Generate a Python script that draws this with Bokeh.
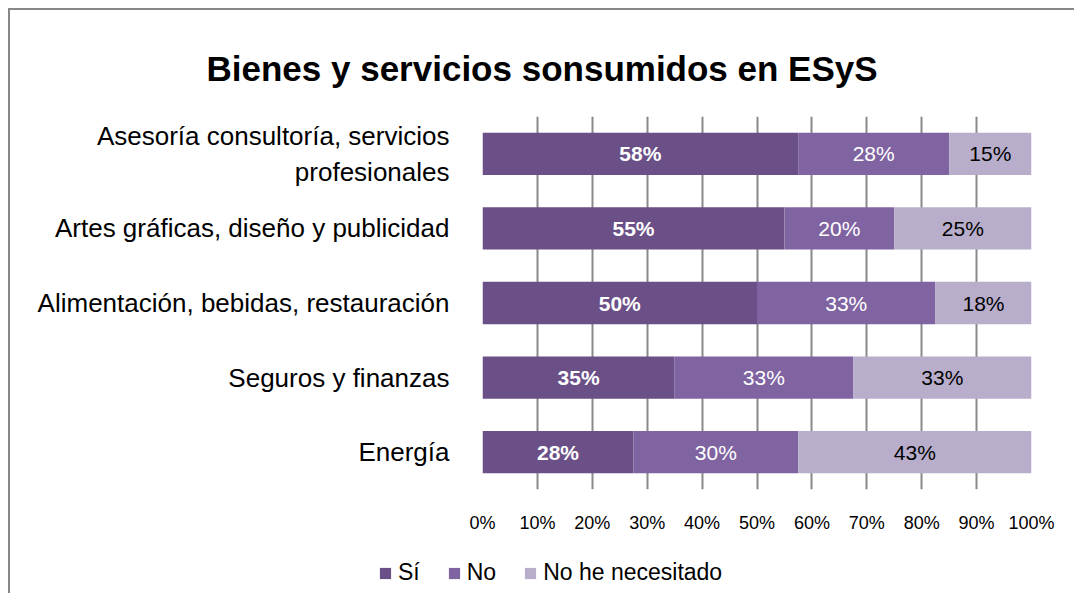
from bokeh.plotting import figure
from bokeh.layouts import column
from bokeh.models import (ColumnDataSource, FactorRange, FixedTicker, PrintfTickFormatter,
                          Legend, LegendItem, Range1d)
from bokeh.embed import file_html
from bokeh.resources import INLINE
from bokeh.core.properties import value

title_text = "Bienes y servicios sonsumidos en ESyS"
categories = [
    "Asesoría consultoría, servicios\nprofesionales",
    "Artes gráficas, diseño y publicidad",
    "Alimentación, bebidas, restauración",
    "Seguros y finanzas",
    "Energía",
]
series_names = ["Sí", "No", "No he necesitado"]
si = [57.5, 55, 50, 35, 27.5]
no = [27.5, 20, 32.5, 32.5, 30]
nhn = [15, 25, 17.5, 32.5, 42.5]
x_ticks = [0, 10, 20, 30, 40, 50, 60, 70, 80, 90, 100]

colors = ["#6A5087", "#8064A2", "#B8AECB"]
label_colors = ["white", "white", "black"]
label_styles = ["bold", "normal", "normal"]
FONT = "Liberation Sans"

p = figure(width=1066, height=545, title=title_text,
           y_range=FactorRange(factors=categories[::-1]),
           x_range=Range1d(0, 100),
           output_backend="svg", toolbar_location=None,
           min_border_left=472, min_border_right=45,
           min_border_top=106, min_border_bottom=66)
p.frame_align = False
p.styles = {"border-top": "2px solid #878787", "border-left": "2px solid #878787"}

source = ColumnDataSource(dict(cat=categories, si=si, no=no, nhn=nhn))
renderers = p.hbar_stack(["si", "no", "nhn"], y="cat", height=0.567, color=colors,
                         line_color=None, source=source)

# data labels
starts = [0] * len(categories)
for i, vals in enumerate([si, no, nhn]):
    mids = [s + v / 2 for s, v in zip(starts, vals)]
    lbls = [f"{int(v + 0.5)}%" for v in vals]
    src = ColumnDataSource(dict(x=mids, y=categories, t=lbls))
    p.text(x="x", y="y", text="t", source=src, text_align="center",
           text_baseline="middle", text_font=value(FONT), text_font_size="21px",
           text_color=label_colors[i], text_font_style=label_styles[i])
    starts = [s + v for s, v in zip(starts, vals)]

# axes
p.xaxis.ticker = FixedTicker(ticks=x_ticks)
p.xaxis.formatter = PrintfTickFormatter(format="%d%%")
p.xaxis.axis_line_color = None
p.xaxis.major_tick_line_color = None
p.xaxis.minor_tick_line_color = None
p.xaxis.major_tick_out = 0
p.xaxis.major_tick_in = 0
p.xaxis.major_label_standoff = 23
p.xaxis.major_label_text_font = FONT
p.xaxis.major_label_text_font_size = "18px"
p.xaxis.major_label_text_color = "#000000"

p.yaxis.axis_line_color = None
p.yaxis.major_tick_line_color = None
p.yaxis.major_tick_out = 0
p.yaxis.major_tick_in = 0
p.yaxis.major_label_standoff = 33
p.yaxis.major_label_text_font = FONT
p.yaxis.major_label_text_font_size = "26px"
p.yaxis.major_label_text_color = "#000000"

p.xgrid.grid_line_color = "#898989"
p.xgrid.grid_line_width = 2
p.ygrid.grid_line_color = None
p.outline_line_color = None

# title
p.title.align = "left"
p.title.offset = -276
p.title.standoff = 58
p.title.text_font = FONT
p.title.text_font_size = "35px"
p.title.text_font_style = "bold"
p.title.text_color = "#000000"

# legend strip (same series colours)
p2 = figure(width=1066, height=40, title=None, x_range=Range1d(0, 1), y_range=Range1d(0, 1),
            output_backend="svg", toolbar_location=None,
            x_axis_type=None, y_axis_type=None,
            min_border_left=0, min_border_right=0, min_border_top=0, min_border_bottom=0)
p2.frame_align = False
p2.styles = {"border-left": "2px solid #878787"}
p2.outline_line_color = None
p2.background_fill_color = "white"
p2.border_fill_color = "white"
leg_renderers = [p2.quad(left=[2], right=[3], bottom=[2], top=[3], color=c, line_color=None)
                 for c in colors]
legend = Legend(items=[LegendItem(label=n, renderers=[r]) for n, r in zip(series_names, leg_renderers)],
                location=(368, 7), orientation="horizontal", padding=0, margin=0,
                glyph_width=14, glyph_height=14, label_standoff=6, spacing=27,
                border_line_color=None, background_fill_alpha=0,
                label_text_font=FONT, label_text_font_size="23px", label_text_color="#000000")
p2.add_layout(legend)

layout = column(p, p2, styles={"margin-left": "8px", "margin-top": "8px"})

open("out.html", "w").write(file_html(layout, INLINE))
